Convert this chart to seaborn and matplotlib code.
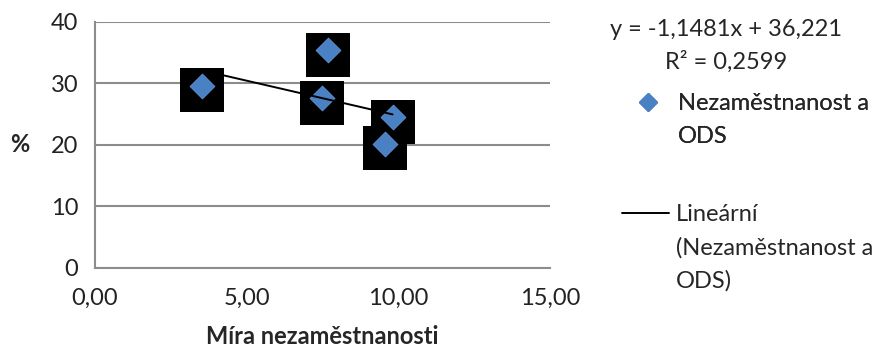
import numpy as np
import pandas as pd
import seaborn as sns
import matplotlib.pyplot as plt
from matplotlib.lines import Line2D
from matplotlib.transforms import offset_copy

# data
nezamestnanost = [3.52, 7.67, 7.47, 9.81, 9.57]
ods = [29.6, 35.4, 27.6, 24.5, 20.2]
x_ticks = [0, 5, 10, 15]
x_ticklabels = ["0,00", "5,00", "10,00", "15,00"]
y_ticks = [0, 10, 20, 30, 40]
rovnice = "y = -1,1481x + 36,221"
r2_text = "R² = 0,2599"

df = pd.DataFrame({"x": nezamestnanost, "y": ods})

sns.set_style("white")
plt.rcParams["font.family"] = ["Lato", "DejaVu Sans"]

blue = "#4a80c4"
grey = "#8c8c8c"
fs = 17

fig = plt.figure(figsize=(8.91, 3.51), dpi=100)
ax = fig.add_axes([95 / 891, 1 - 267.5 / 351, 455 / 891, 245.5 / 351])

# black square "shadows" behind the markers, shifted slightly down
shadow_tr = offset_copy(ax.transData, fig=fig, x=0, y=-3.2, units="points")
sns.scatterplot(data=df, x="x", y="y", marker="s", s=1000, color="black",
                linewidth=0, ax=ax, transform=shadow_tr, zorder=3, legend=False)
sns.scatterplot(data=df, x="x", y="y", marker="D", s=160, color=blue,
                linewidth=0.6, edgecolor="#5f95d6", ax=ax, zorder=4, legend=False)
sns.regplot(data=df, x="x", y="y", ci=None, scatter=False, ax=ax,
            line_kws={"color": "black", "lw": 1.4, "zorder": 5})

ax.set_xlim(0, 15)
ax.set_ylim(0, 40)
ax.set_xticks(x_ticks)
ax.set_xticklabels(x_ticklabels)
ax.set_yticks(y_ticks)
ax.yaxis.grid(True, color=grey, lw=1.5)
ax.set_axisbelow(True)
for s in ["top", "right"]:
    ax.spines[s].set_visible(False)
for s in ["left", "bottom"]:
    ax.spines[s].set_color(grey)
    ax.spines[s].set_linewidth(1.5)
ax.tick_params(axis="both", direction="out", length=6, width=1.5, color=grey,
               labelsize=fs, labelcolor="#222222", pad=6)
ax.tick_params(axis="x", pad=9)

ax.set_xlabel("Míra nezaměstnanosti", fontsize=fs, fontweight="bold", labelpad=11)
ax.set_ylabel("%", fontsize=fs, fontweight="bold", rotation=0, va="center", ha="center")
ax.yaxis.set_label_coords(-0.165, 0.5)

# trendline equation
fig.text(726 / 891, 1 - 29 / 351, rovnice, ha="center", va="center", fontsize=fs)
fig.text(726 / 891, 1 - 62 / 351, r2_text, ha="center", va="center", fontsize=fs)

# legend, two blocks like in Excel
blank = Line2D([], [], linestyle="none")
h_pts = Line2D([], [], marker="D", linestyle="none", markersize=9.5, color=blue)
h_line = Line2D([], [], color="black", lw=1.4)

leg1 = fig.legend([h_pts, blank], ["Nezaměstnanost a", "ODS"],
                  loc="upper left", bbox_to_anchor=(624 / 891, 1 - 93 / 351),
                  frameon=False, fontsize=fs, borderpad=0, borderaxespad=0,
                  handlelength=2.0, handletextpad=0.3, labelspacing=0.5)
leg2 = fig.legend([h_line, blank, blank], ["Lineární", "(Nezaměstnanost a", "ODS)"],
                  loc="upper left", bbox_to_anchor=(622 / 891, 1 - 204 / 351),
                  frameon=False, fontsize=fs, borderpad=0, borderaxespad=0,
                  handlelength=2.0, handletextpad=0.3, labelspacing=0.5)
fig.add_artist(leg1)

fig.savefig("out.png", dpi=100)
